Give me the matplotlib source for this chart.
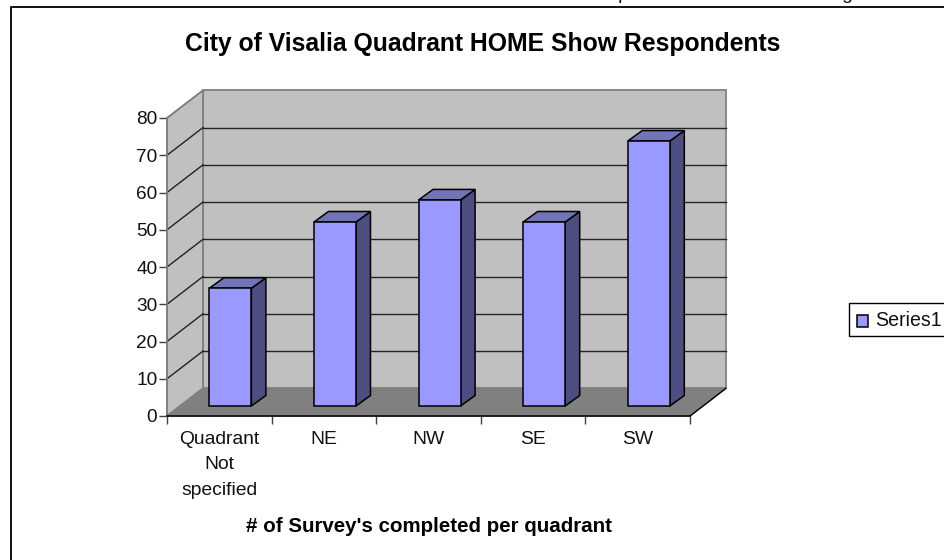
import matplotlib
matplotlib.use('Agg')
import matplotlib.pyplot as plt
from matplotlib.patches import Polygon, Rectangle

plt.rcParams['font.family'] = ['Liberation Sans', 'DejaVu Sans']

categories = ['Quadrant\nNot\nspecified', 'NE', 'NW', 'SE', 'SW']
values = [32, 50, 56, 50, 72]
y_ticks = [0, 10, 20, 30, 40, 50, 60, 70, 80]
series_name = 'Series1'
title = 'City of Visalia Quadrant HOME Show Respondents'
x_title = "# of Survey's completed per quadrant"

W, H = 944, 560
# front plane of the 3d box, in pixels
left, right, bottom, top = 167, 690, 416, 118
# depth of the box in data units
dep_x = 36 / ((right - left) / 5)
dep_y = 27.7 / ((bottom - top) / 80)

fig = plt.figure(figsize=(W / 100, H / 100), dpi=100)
bg = fig.add_axes([0, 0, 1, 1])
bg.set_xlim(0, W)
bg.set_ylim(H, 0)
bg.axis('off')
# page frame, cut off by the picture at right and bottom
bg.plot([10.5, 10.5, W], [H, 7, 7], color='#111111', lw=1.4)
# descenders of the cropped line of text above the frame
bg.text(623, -1, 'p', ha='center', va='baseline', fontsize=14, color='#111111')
bg.text(847, -1, 'g', ha='center', va='baseline', fontsize=14, color='#111111')

ax = fig.add_axes([left / W, 1 - bottom / H, (right - left) / W, (bottom - top) / H])
ax.set_xlim(0, len(categories))
ax.set_ylim(0, y_ticks[-1])
ax.patch.set_visible(False)
for s in ['top', 'right']:
    ax.spines[s].set_visible(False)
ax.spines['bottom'].set_linewidth(1.1)
ax.spines['left'].set_color('#808080')
ax.spines['left'].set_linewidth(1.3)

n = len(categories)
ymax = y_ticks[-1]


def poly(pts, **kw):
    ax.add_patch(Polygon(pts, closed=True, clip_on=False, **kw))


# back wall, side wall, floor
poly([(dep_x, dep_y), (n + dep_x, dep_y), (n + dep_x, ymax + dep_y), (dep_x, ymax + dep_y)],
     fc='#c0c0c0', ec='#808080', lw=1.3, zorder=1)
poly([(0, 0), (dep_x, dep_y), (dep_x, ymax + dep_y), (0, ymax)],
     fc='#c0c0c0', ec='#808080', lw=1.3, zorder=1)
poly([(0, 0), (n, 0), (n + dep_x, dep_y), (dep_x, dep_y)],
     fc='#808080', ec='#808080', lw=1, zorder=1)
ax.plot([n, n + dep_x], [0, dep_y], color='black', lw=1, clip_on=False, zorder=2)

for t in y_ticks[1:]:
    col = '#808080' if t == ymax else '#222222'
    ax.plot([0, dep_x], [t, t + dep_y], color=col, lw=1, clip_on=False, zorder=2)
    if t < ymax:
        ax.plot([dep_x, n + dep_x], [t + dep_y, t + dep_y], color='#222222', lw=1,
                clip_on=False, zorder=2)

# bars
bar_w = 42 / ((right - left) / 5)
bar_dx = 14.5 / ((right - left) / 5)
bar_dy = 10.5 / ((bottom - top) / 80)
base = 10 / ((bottom - top) / 80)
bar_scale = 3.68 / ((bottom - top) / 80)
for i, v in enumerate(values):
    x0 = i + 0.5 - bar_w / 2 + 0.106
    x1 = x0 + bar_w
    y1 = base + v * bar_scale
    poly([(x1, base), (x1 + bar_dx, base + bar_dy), (x1 + bar_dx, y1 + bar_dy), (x1, y1)],
         fc='#4d4d80', ec='black', lw=1.1, zorder=4)
    poly([(x0, y1), (x1, y1), (x1 + bar_dx, y1 + bar_dy), (x0 + bar_dx, y1 + bar_dy)],
         fc='#7373b8', ec='black', lw=1.1, zorder=4)
    ax.bar(i + 0.606, y1 - base, width=bar_w, bottom=base, color='#9999ff',
           edgecolor='black', linewidth=1.1, zorder=5, clip_on=False)

ax.set_yticks(y_ticks)
ax.tick_params(axis='y', length=6, width=1, color='#404040', labelsize=13.7, pad=1, labelcolor='#111111')
for lab in ax.get_yticklabels():
    lab.set_verticalalignment('center_baseline')
ax.set_xticks(range(n + 1))
ax.set_xticklabels([])
ax.tick_params(axis='x', length=6, width=1, color='#404040')
for i, c in enumerate(categories):
    ax.annotate(c, (i + 0.5, 0), xytext=(0, -15), xycoords='data', textcoords='offset pixels',
                ha='center', va='top', fontsize=13.9, linespacing=1.65, color='#111111')

bg.text(482.5, 43.5, title, ha='center', va='center', fontsize=17.8, fontweight='bold')
bg.text(428.5, 526, x_title, ha='center', va='center', fontsize=14.8, fontweight='bold')

# legend
bg.add_patch(Rectangle((849, 303), W, 32.5, fc='white', ec='black', lw=1))
bg.add_patch(Rectangle((857, 315), 11, 11.5, fc='#9999ff', ec='black', lw=1.1))
bg.text(875, 320, series_name, ha='left', va='center', fontsize=14.1, color='#111111')

fig.savefig('out.png', dpi=100)
